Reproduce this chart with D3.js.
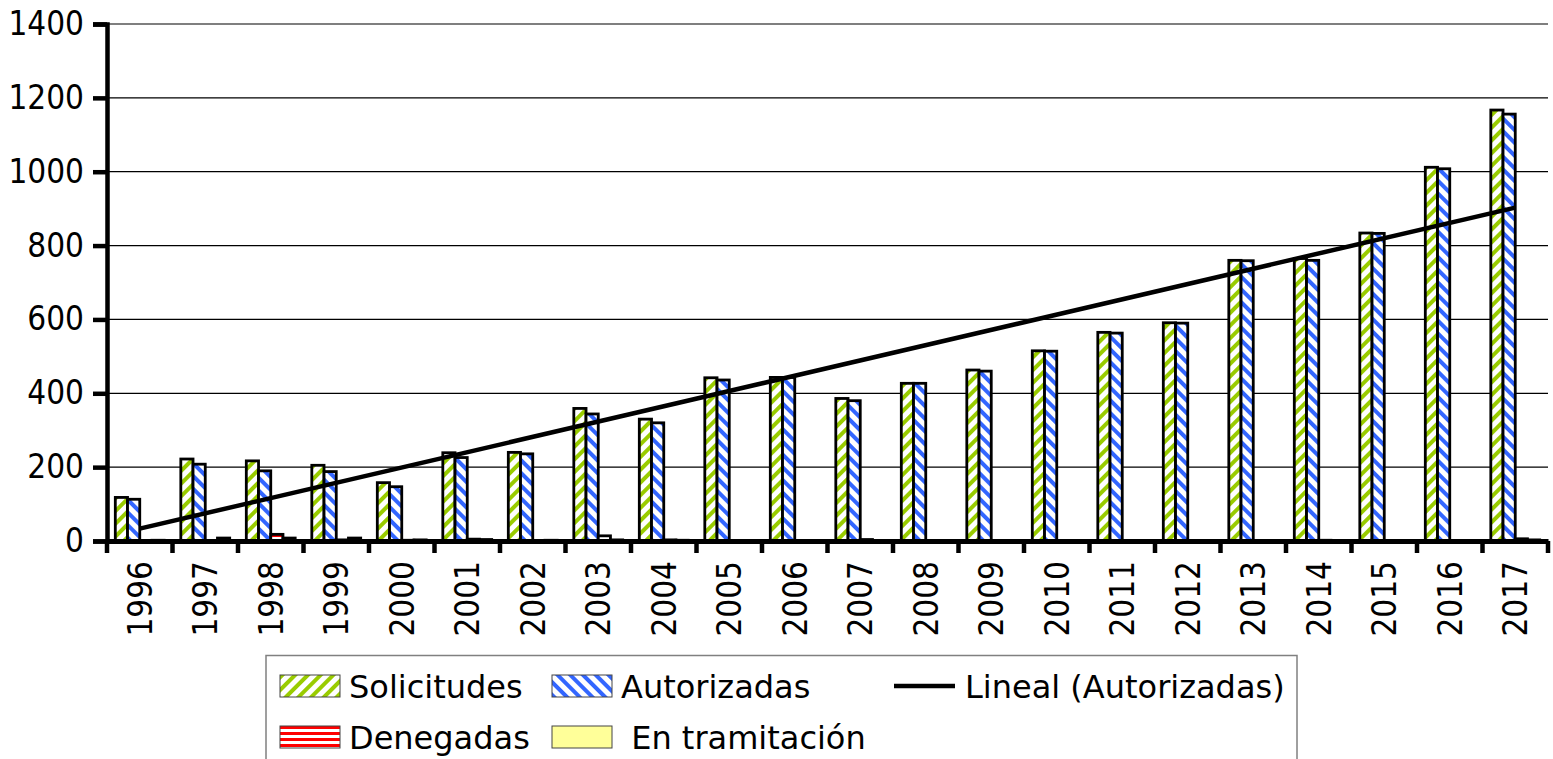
<!DOCTYPE html>
<html>
<head>
<meta charset="utf-8">
<script src="https://cdn.jsdelivr.net/npm/d3@7"></script>
<style>
  html, body { margin:0; padding:0; background:#fff; }
  svg { display:block; font-family:"DejaVu Sans", sans-serif; }
</style>
</head>
<body>
<svg id="chart"></svg>
<script>
// Datos
const YEARS = ['1996','1997','1998','1999','2000','2001','2002','2003','2004','2005','2006',
               '2007','2008','2009','2010','2011','2012','2013','2014','2015','2016','2017'];
const SOLICITUDES  = [118,222,217,205,158,239,240,359,330,442,443,386,427,463,515,565,591,760,765,834,1012,1167];
const AUTORIZADAS  = [113,208,190,188,147,226,236,344,320,436,443,380,427,460,514,563,590,759,760,833,1008,1156];
const DENEGADAS    = [1,0,18,3,2,5,1,14,3,1,1,4,1,1,1,1,1,1,2,1,1,6];
const TRAMITACION  = [2,8,8,8,3,4,2,3,2,1,1,1,1,1,1,1,1,1,1,1,1,3];
const Y_TICKS = [0,200,400,600,800,1000,1200,1400];

const SERIES = [
  {key:'sol', name:'Solicitudes',     values:SOLICITUDES, fill:'url(#pSol)'},
  {key:'aut', name:'Autorizadas',     values:AUTORIZADAS, fill:'url(#pAut)'},
  {key:'den', name:'Denegadas',       values:DENEGADAS,   fill:'url(#pDen)'},
  {key:'tra', name:' En tramitación', values:TRAMITACION, fill:'#ffff99'},
];

const W = 1553, H = 759;
const L = 107, R = 1548, T = 24, B = 541;
const TICK_FONT = '"DejaVu Sans Condensed", "DejaVu Sans", sans-serif';

const svg = d3.select('#chart').attr('width', W).attr('height', H);
const defs = svg.append('defs');

// tramas
function stripes(id, color, angle, size, band) {
  const p = defs.append('pattern').attr('id', id)
    .attr('patternUnits','userSpaceOnUse').attr('width', size).attr('height', size)
    .attr('patternTransform', `rotate(${angle})`);
  p.append('rect').attr('width', size).attr('height', size).attr('fill','#fff');
  p.append('rect').attr('x',0).attr('y',0).attr('width', size).attr('height', band).attr('fill', color);
}
stripes('pSol', '#99cc00', -45, 9, 4);
stripes('pAut', '#3366ff', 45, 9, 4);
stripes('pDen', '#ff0000', 0, 6, 3);

const x = d3.scaleBand().domain(YEARS).range([L, R]).padding(0);
const xs = d3.scaleBand().domain(SERIES.map(s=>s.key)).range([0, x.bandwidth()]).paddingInner(0).paddingOuter(0.68);
const y = d3.scaleLinear().domain([0, 1400]).range([B, T]);

// rejilla
svg.append('g').selectAll('line').data(Y_TICKS.filter(v=>v>0)).enter().append('line')
  .attr('x1', L).attr('x2', R).attr('y1', d=>y(d)).attr('y2', d=>y(d))
  .attr('stroke','#000').attr('stroke-width',1.2);

// barras
const groups = svg.append('g').selectAll('g').data(SERIES).enter().append('g');
groups.selectAll('rect').data(s => s.values.map((v,i)=>({v, yr:YEARS[i], s}))).enter().append('rect')
  .attr('x', d => x(d.yr) + xs(d.s.key))
  .attr('width', xs.bandwidth())
  .attr('y', d => y(d.v))
  .attr('height', d => B - y(d.v))
  .attr('fill', d => d.s.fill)
  .attr('stroke','#000').attr('stroke-width',2.8);

// ejes
const yAxis = svg.append('g').attr('transform',`translate(${L},0)`)
  .call(d3.axisLeft(y).tickValues(Y_TICKS).tickSize(14).tickPadding(9).tickFormat(d3.format('d')));
yAxis.select('.domain').attr('stroke','#000').attr('stroke-width',4.5);
yAxis.selectAll('.tick line').attr('stroke','#000').attr('stroke-width',4.5);
yAxis.selectAll('text').attr('font-size',33).attr('fill','#000').attr('font-family',TICK_FONT);

const xAxis = svg.append('g').attr('transform',`translate(0,${B})`)
  .call(d3.axisBottom(x).tickSize(0).tickPadding(0));
xAxis.select('.domain').attr('stroke','#000').attr('stroke-width',5);
xAxis.selectAll('.tick text')
  .attr('font-size',33).attr('fill','#000').attr('font-family',TICK_FONT)
  .attr('transform','rotate(-90)')
  .attr('text-anchor','end').attr('dy','0.36em').attr('x',-20).attr('y',0);
// marcas entre categorías
svg.append('g').selectAll('line').data(YEARS.concat(['end'])).enter().append('line')
  .attr('x1', (d,i)=> L + i*x.step()).attr('x2', (d,i)=> L + i*x.step())
  .attr('y1', B).attr('y2', B + 12)
  .attr('stroke','#000').attr('stroke-width',4.5);

// tendencia lineal (Autorizadas)
const n = AUTORIZADAS.length;
const xi = d3.range(1, n+1);
const mx = d3.mean(xi), my = d3.mean(AUTORIZADAS);
const slope = d3.sum(xi, (v,i)=>(v-mx)*(AUTORIZADAS[i]-my)) / d3.sum(xi, v=>(v-mx)*(v-mx));
const icpt = my - slope*mx;
const trend = [0, n-1].map(i => ({yr:YEARS[i], v: icpt + slope*(i+1)}));
svg.append('path').datum(trend)
  .attr('d', d3.line().x(d=>x(d.yr)+x.bandwidth()/2).y(d=>y(d.v)))
  .attr('fill','none').attr('stroke','#000').attr('stroke-width',4.5);

// leyenda
const lg = svg.append('g');
lg.append('rect').attr('x',266).attr('y',655.5).attr('width',1031).attr('height',110)
  .attr('fill','#fff').attr('stroke','#808080').attr('stroke-width',1.5);
const LEG = [
  {s:SERIES[0], x:280, row:0},
  {s:SERIES[1], x:552, row:0},
  {s:SERIES[2], x:280, row:1},
  {s:SERIES[3], x:552, row:1},
];
const rowY = [686, 737];
LEG.forEach(e => {
  const cy = rowY[e.row];
  lg.append('rect').attr('x', e.x).attr('y', cy-11).attr('width',60).attr('height',22)
    .attr('fill', e.s.fill).attr('stroke','#444').attr('stroke-width',1);
  lg.append('text').attr('x', e.x + 69).attr('y', cy).attr('dy','0.36em')
    .attr('font-size',32).attr('xml:space','preserve').style('white-space','pre')
    .text(e.s.name);
});
lg.append('line').attr('x1',894).attr('x2',955).attr('y1',rowY[0]).attr('y2',rowY[0])
  .attr('stroke','#000').attr('stroke-width',4.5);
lg.append('text').attr('x',965).attr('y',rowY[0]).attr('dy','0.36em').attr('font-size',32)
  .text('Lineal (Autorizadas)');
</script>
</body>
</html>
